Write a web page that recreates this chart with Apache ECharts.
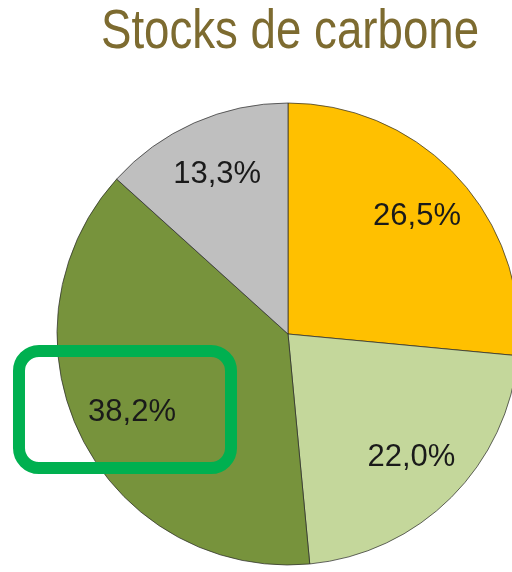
<!DOCTYPE html>
<html>
<head>
<meta charset="utf-8">
<script src="https://cdn.jsdelivr.net/npm/echarts@6/dist/echarts.min.js"></script>
<style>
html,body{margin:0;padding:0;background:#fff;}
#chart{width:512px;height:572px;}
</style>
</head>
<body>
<div id="chart"></div>
<script>
const titleText = "Stocks de carbone";
const categories = ["A", "B", "C", "D"];
const values = [26.5, 22.0, 38.2, 13.3];
const labels = ["26,5%", "22,0%", "38,2%", "13,3%"];
const colors = ["#FFC000", "#C4D79B", "#77933C", "#BFBFBF"];

const FONT = "'Liberation Sans', Arial, sans-serif";
const data = categories.map((c, i) => ({ name: c, value: values[i] }));

const chart = echarts.init(document.getElementById('chart'), null, { renderer: 'canvas' });
chart.setOption({
  animation: false,
  backgroundColor: '#ffffff',
  series: [
    {
      type: 'pie',
      center: [288, 334],
      radius: [0, 231],
      startAngle: 90,
      clockwise: true,
      silent: true,
      label: { show: false },
      labelLine: { show: false },
      itemStyle: { borderColor: 'rgba(40,40,40,0.7)', borderWidth: 1 },
      data: data.map((d, i) => ({ name: d.name, value: d.value, itemStyle: { color: colors[i] } }))
    },
    {
      type: 'pie',
      center: [288, 334],
      radius: [112, 231],
      startAngle: 90,
      clockwise: true,
      silent: true,
      itemStyle: { color: 'rgba(0,0,0,0)', borderWidth: 0 },
      label: {
        show: true,
        position: 'inside',
        fontFamily: FONT,
        fontSize: 31,
        color: '#1a1a1a',
        formatter: p => labels[p.dataIndex]
      },
      labelLine: { show: false },
      data: data.map(d => ({ name: d.name, value: d.value }))
    }
  ],
  graphic: [
    {
      type: 'text',
      x: 290,
      y: 33,
      scaleX: 0.83,
      style: {
        text: titleText,
        font: "normal 55px " + FONT,
        fill: '#7D6B30',
        align: 'center',
        verticalAlign: 'middle'
      },
      z: 100
    },
    {
      type: 'rect',
      shape: { x: 19, y: 351, width: 212, height: 117, r: 20 },
      style: { fill: 'none', stroke: '#00B050', lineWidth: 12 },
      z: 100
    }
  ]
});
</script>
</body>
</html>
